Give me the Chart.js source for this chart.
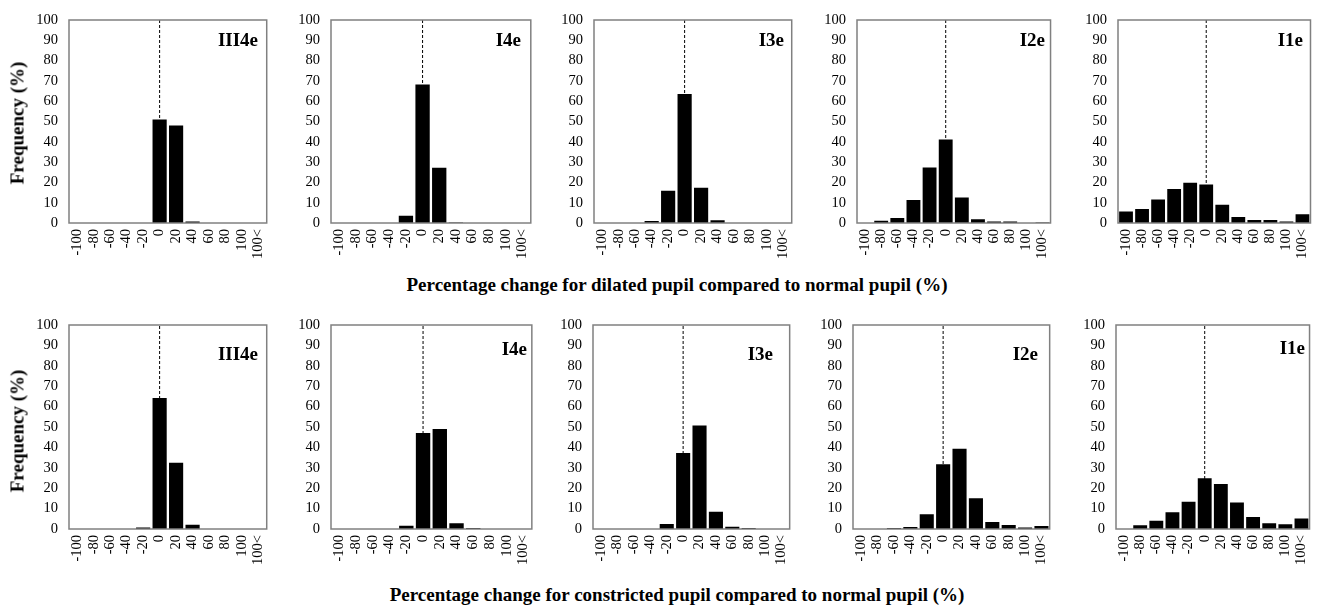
<!DOCTYPE html>
<html>
<head>
<meta charset="utf-8">
<script src="https://cdn.jsdelivr.net/npm/chart.js@4.4.1/dist/chart.umd.min.js"></script>
<style>
    body { margin: 0; width: 1326px; height: 606px; background: #fff; position: relative; overflow: hidden;
           font-family: "Liberation Serif", "Times New Roman", serif; color: #000; }
    canvas { position: absolute; }
    .ptitle { position: absolute; font-weight: bold; font-size: 19px; line-height: 1; white-space: nowrap;
              transform: translate(-100%, -50%); }
    .ytitle { position: absolute; font-weight: bold; font-size: 19px; line-height: 1; white-space: nowrap;
              transform: translate(-50%, -50%) rotate(-90deg); }
    .xtitle { position: absolute; font-weight: bold; font-size: 19px; line-height: 1; white-space: nowrap;
              transform: translate(-50%, -50%); }
</style>
</head>
<body>
<script>
// ---------- DATA ----------
const categories = ['-100', '-80', '-60', '-40', '-20', '0', '20', '40', '60', '80', '100', '100<'];
const panelNames = ['III4e', 'I4e', 'I3e', 'I2e', 'I1e'];
const zeroCategory = '0';

// dilated pupil vs normal pupil (%)
const dilIII4e = [0, 0, 0, 0, 0, 51, 48, 0.8, 0, 0, 0, 0];
const dilI4e   = [0, 0, 0, 0, 3.6, 68.2, 27.2, 0.3, 0, 0, 0, 0];
const dilI3e   = [0, 0, 0, 1, 15.9, 63.6, 17.4, 1.3, 0, 0, 0, 0];
const dilI2e   = [0, 1.1, 2.5, 11.3, 27.4, 41.1, 12.6, 1.8, 0.7, 0.7, 0, 0.3];
const dilI1e   = [5.7, 6.9, 11.6, 16.7, 19.8, 19, 9, 3, 1.5, 1.5, 0.7, 4.3];

// constricted pupil vs normal pupil (%)
const conIII4e = [0, 0, 0, 0, 0.7, 64.2, 32.5, 2.1, 0, 0, 0, 0];
const conI4e   = [0, 0, 0, 0, 1.6, 47, 49, 2.8, 0.5, 0, 0, 0];
const conI3e   = [0, 0, 0, 0, 2.5, 37.3, 50.7, 8.5, 1.1, 0.5, 0, 0];
const conI2e   = [0, 0, 0.5, 1, 7.2, 31.8, 39.3, 15.1, 3.4, 2, 0.7, 1.5];
const conI1e   = [0, 1.8, 4.1, 8.2, 13.4, 24.9, 22.1, 13, 5.9, 2.8, 2.3, 5.2];

// ---------- LAYOUT ----------
const Y_W = 44, PAD_R = 3, PAD_T = 20, X_H = 50;

const rows = [
    {
        series: [dilIII4e, dilI4e, dilI3e, dilI2e, dilI1e],
        top: 20, bottom: 223,
        boxes: [[69, 279], [331, 543], [594, 804], [857, 1063], [1118, 1323]],
        nameRight: [21, 22, 20, 18, 20],
        nameDown: [19, 19, 19, 19, 19],
        xTitle: 'Percentage change for dilated pupil compared to normal pupil (%)',
        xTitleY: 284,
        yTitleY: 123
    },
    {
        series: [conIII4e, conI4e, conI3e, conI2e, conI1e],
        top: 325, bottom: 529,
        boxes: [[69, 279], [331, 544], [593, 802], [853, 1062], [1116, 1322]],
        nameRight: [21, 17, 29, 24, 17],
        nameDown: [28, 23, 28, 28, 22],
        xTitle: 'Percentage change for constricted pupil compared to normal pupil (%)',
        xTitleY: 594,
        yTitleY: 431
    }
];

// ---------- FRAME ----------
const framePlugin = {
    id: 'frame',
    afterDraw(chart) {
        const a = chart.chartArea;
        const ctx = chart.ctx;
        ctx.save();
        ctx.strokeStyle = '#808080';
        ctx.lineWidth = 1.5;
        ctx.strokeRect(a.left, a.top, a.right - a.left, a.bottom - a.top);
        ctx.restore();
    }
};

const tickFont = { family: '"Liberation Serif", "Times New Roman", serif', size: 14.5 };

function addText(cls, text, x, y) {
    const el = document.createElement('div');
    el.className = cls;
    el.textContent = text;
    el.style.left = x + 'px';
    el.style.top = y + 'px';
    document.body.appendChild(el);
}

function makePanel(values, box, top, bottom) {
    const [L, R] = box;
    const canvas = document.createElement('canvas');
    canvas.width = (R - L) + Y_W + PAD_R;
    canvas.height = PAD_T + (bottom - top) + X_H;
    canvas.style.left = (L - Y_W) + 'px';
    canvas.style.top = (top - PAD_T) + 'px';
    document.body.appendChild(canvas);

    new Chart(canvas, {
        type: 'bar',
        data: {
            labels: categories,
            datasets: [
                {
                    type: 'bar',
                    data: values,
                    backgroundColor: '#000',
                    borderWidth: 0,
                    barPercentage: 0.86,
                    categoryPercentage: 1,
                    order: 0
                },
                {
                    type: 'line',
                    data: [{ x: zeroCategory, y: 0 }, { x: zeroCategory, y: 100 }],
                    borderColor: '#000',
                    borderWidth: 1,
                    borderDash: [3, 2],
                    pointRadius: 0,
                    order: 1
                }
            ]
        },
        options: {
            responsive: false,
            animation: false,
            events: [],
            layout: { padding: { top: PAD_T, right: PAD_R, left: 0, bottom: 0 } },
            plugins: { legend: { display: false }, tooltip: { enabled: false } },
            scales: {
                x: {
                    grid: { display: false, drawTicks: false },
                    border: { display: false },
                    ticks: { autoSkip: false, maxRotation: 90, minRotation: 90, padding: 6, color: '#000', font: tickFont },
                    afterFit(s) { s.height = X_H; }
                },
                y: {
                    min: 0, max: 100,
                    grid: { display: false, drawTicks: false },
                    border: { display: false },
                    ticks: { stepSize: 10, autoSkip: false, padding: 11, color: '#000', font: tickFont },
                    afterFit(s) { s.width = Y_W; }
                }
            }
        },
        plugins: [framePlugin]
    });
}

rows.forEach(row => {
    row.series.forEach((values, i) => {
        const box = row.boxes[i];
        makePanel(values, box, row.top, row.bottom);
        addText('ptitle', panelNames[i], box[1] - row.nameRight[i], row.top + row.nameDown[i]);
    });
    addText('ytitle', 'Frequency (%)', 17, row.yTitleY);
    addText('xtitle', row.xTitle, 677, row.xTitleY);
});
</script>
</body>
</html>
